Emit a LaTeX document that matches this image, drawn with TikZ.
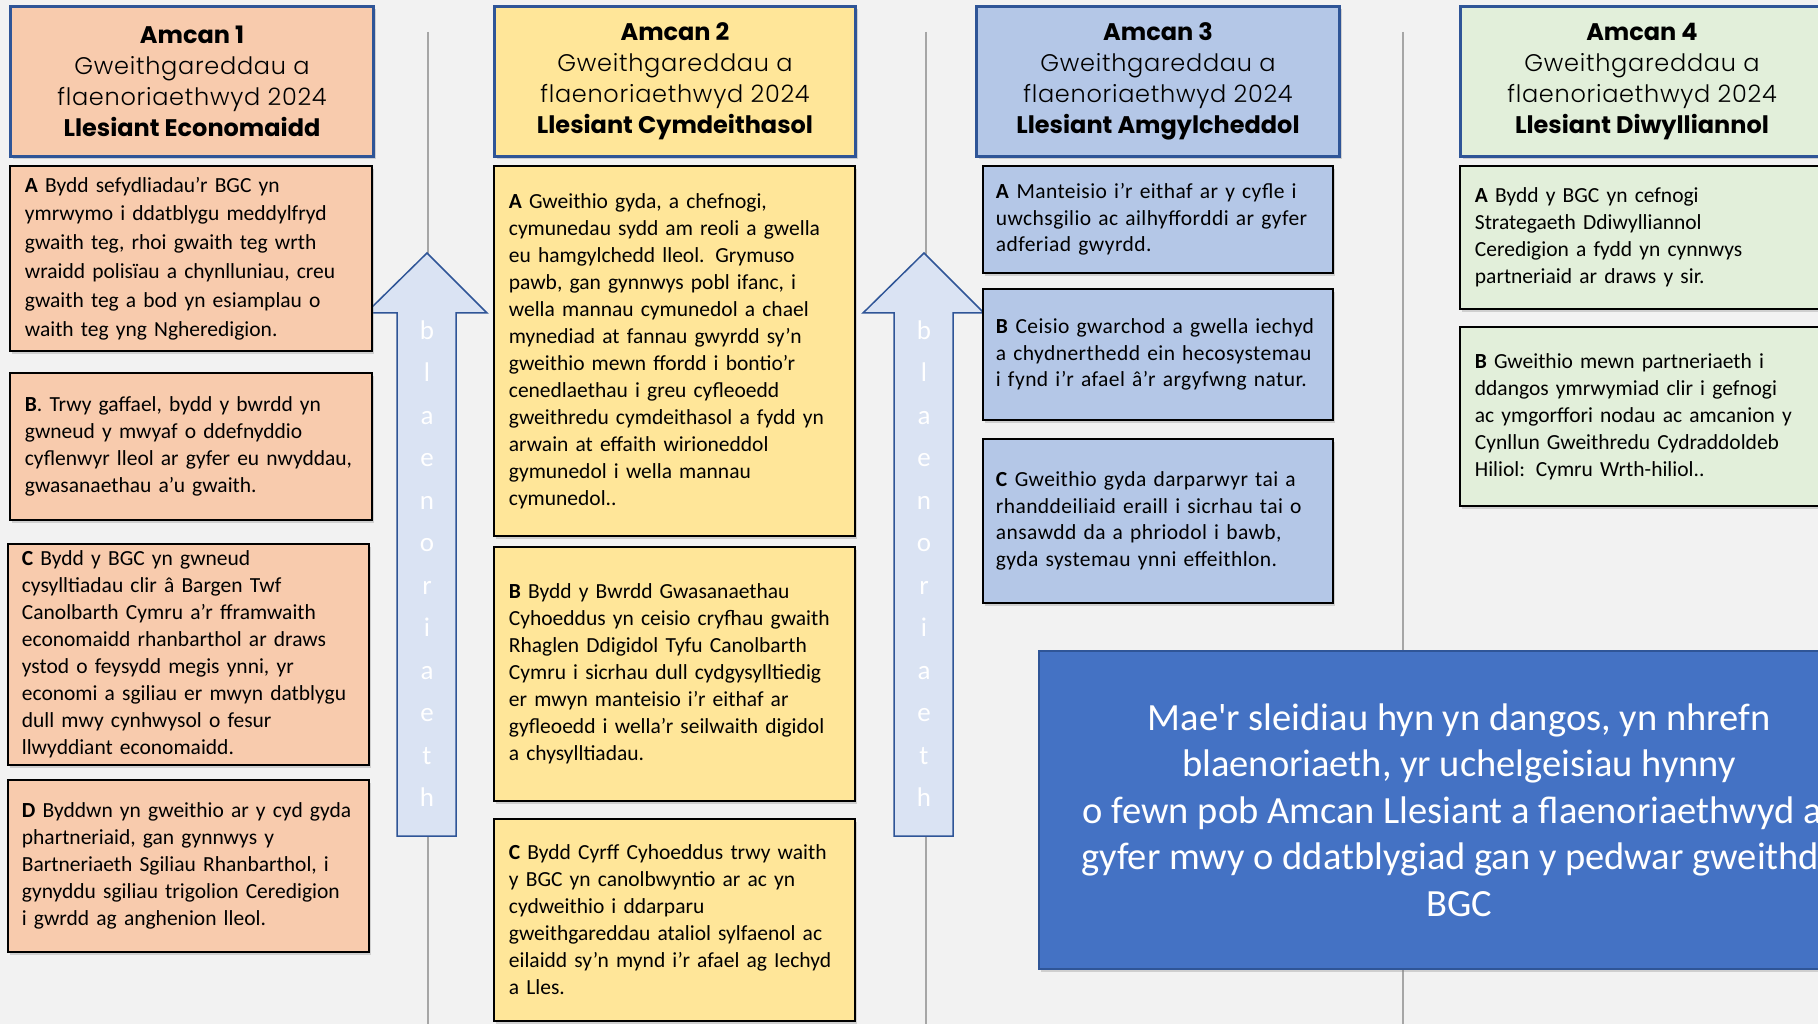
\documentclass[tikz,border=0pt]{standalone}
\usepackage{fontspec}
\setmainfont{Carlito}
\newfontfamily\headfont{Poppins}
\newfontfamily\headlight{Poppins Light}[LetterSpace=3]
\newfontfamily\widebody{Carlito}[LetterSpace=2]
\usetikzlibrary{shadows}

\definecolor{peach}{HTML}{F8CBAD}
\definecolor{sand}{HTML}{FFE699}
\definecolor{sky}{HTML}{B4C7E7}
\definecolor{sage}{HTML}{E2EFDA}
\definecolor{navy}{HTML}{2F5597}
\definecolor{royal}{HTML}{4472C4}
\definecolor{pale}{HTML}{DAE3F3}
\definecolor{backdrop}{HTML}{F2F2F2}

\newcommand{\headtext}[2]{\textbf{Amcan #1}\\{\headlight Gweithgareddau a}\\{\headlight flaenoriaethwyd 2024}\\\textbf{Llesiant #2}}

\tikzset{
  softshadow/.style={drop shadow={shadow xshift=2pt, shadow yshift=-3pt, opacity=.3}},
  headbox/.style={draw=navy, line width=3pt, anchor=north west, align=center,
    inner sep=0pt, softshadow, font=\headfont\fontsize{24}{31}\selectfont},
  itembox/.style={draw=black, line width=1.8pt, anchor=north west, align=left,
    inner sep=0pt, softshadow, font=\fontsize{21.5}{27}\selectfont},
  letter/.style={text=white, anchor=base, font=\fontsize{27}{27}\selectfont}
}

\begin{document}
\begin{tikzpicture}[x=1pt, y=-1pt]
\useasboundingbox (0,0) rectangle (1818,1024);
\clip (0,0) rectangle (1818,1024);
\fill[backdrop] (0,0) rectangle (1818,1024);

  % grey dividers
  \foreach \x in {428, 926, 1403} {%
    \draw[gray!70, line width=2.5pt] (\x,32) -- (\x,1024);
  }

  % priority arrows
  \foreach \x in {0, 497} {%
    \draw[fill=pale, draw=navy, line width=1.5pt] (427+\x,253) -- (487+\x,313) -- (456+\x,313)
      -- (456+\x,836) -- (397+\x,836) -- (397+\x,313) -- (366+\x,313) -- cycle;
    \foreach \l [count=\i] in {b,l,a,e,n,o,r,i,a,e,t,h} {%
      \node[letter] at (427+\x, 339+42.5*\i-42.5) {\l};
    }
  }

  % Amcan 1
  \node[headbox, fill=peach, minimum width=363, minimum height=150] (h1) at (9,5)
    {\headtext{1}{Economaidd}};
  \node[itembox, fill=peach, minimum width=362, minimum height=185, text width=332pt,
    font=\fontsize{21.5}{28.8}\selectfont] (a1) at (9,165)
    {\textbf{A} Bydd sefydliadau’r BGC yn\\ymrwymo i ddatblygu meddylfryd\\gwaith teg, rhoi gwaith teg wrth\\wraidd polisïau a chynlluniau, creu\\gwaith teg a bod yn esiamplau o\\waith teg yng Ngheredigion.};
  \node[itembox, fill=peach, minimum width=362, minimum height=147, text width=332pt] (b1) at (9,372)
    {\textbf{B}. Trwy gaffael, bydd y bwrdd yn\\gwneud y mwyaf o ddefnyddio\\cyflenwyr lleol ar gyfer eu nwyddau,\\gwasanaethau a’u gwaith.};
  \node[itembox, fill=peach, minimum width=361, minimum height=221, text width=333pt] (c1) at (7,543)
    {\textbf{C} Bydd y BGC yn gwneud\\cysylltiadau clir â Bargen Twf\\Canolbarth Cymru a’r fframwaith\\economaidd rhanbarthol ar draws\\ystod o feysydd megis ynni, yr\\economi a sgiliau er mwyn datblygu\\dull mwy cynhwysol o fesur\\llwyddiant economaidd.};
  \node[itembox, fill=peach, minimum width=361, minimum height=172, text width=333pt] (d1) at (7,779)
    {\textbf{D} Byddwn yn gweithio ar y cyd gyda\\phartneriaid, gan gynnwys y\\Bartneriaeth Sgiliau Rhanbarthol, i\\gynyddu sgiliau trigolion Ceredigion\\i gwrdd ag anghenion lleol.};

  % Amcan 2
  \node[headbox, fill=sand, minimum width=361, minimum height=150] (h2) at (493,5)
    {\headtext{2}{Cymdeithasol}};
  \node[itembox, fill=sand, minimum width=361, minimum height=370, text width=331pt] (a2) at (493,165)
    {\textbf{A} Gweithio gyda, a chefnogi,\\cymunedau sydd am reoli a gwella\\eu hamgylchedd lleol. Grymuso\\pawb, gan gynnwys pobl ifanc, i\\wella mannau cymunedol a chael\\mynediad at fannau gwyrdd sy’n\\gweithio mewn ffordd i bontio’r\\cenedlaethau i greu cyfleoedd\\gweithredu cymdeithasol a fydd yn\\arwain at effaith wirioneddol\\gymunedol i wella mannau\\cymunedol..};
  \node[itembox, fill=sand, minimum width=361, minimum height=254, text width=331pt] (b2) at (493,546)
    {\textbf{B} Bydd y Bwrdd Gwasanaethau\\Cyhoeddus yn ceisio cryfhau gwaith\\Rhaglen Ddigidol Tyfu Canolbarth\\Cymru i sicrhau dull cydgysylltiedig\\er mwyn manteisio i’r eithaf ar\\gyfleoedd i wella’r seilwaith digidol\\a chysylltiadau.};
  \node[itembox, fill=sand, minimum width=361, minimum height=202, text width=331pt] (c2) at (493,818)
    {\textbf{C} Bydd Cyrff Cyhoeddus trwy waith\\y BGC yn canolbwyntio ar ac yn\\cydweithio i ddarparu\\gweithgareddau ataliol sylfaenol ac\\eilaidd sy’n mynd i’r afael ag Iechyd\\a Lles.};

  % Amcan 3
  \node[headbox, fill=sky, minimum width=363, minimum height=150] (h3) at (975,5)
    {\headtext{3}{Amgylcheddol}};
  \node[itembox, fill=sky, minimum width=350, minimum height=107, text width=324pt,
    font=\widebody\fontsize{21.5}{26.7}\selectfont] (a3) at (982,165)
    {\textbf{A} Manteisio i’r eithaf ar y cyfle i\\uwchsgilio ac ailhyfforddi ar gyfer\\adferiad gwyrdd.};
  \node[itembox, fill=sky, minimum width=350, minimum height=131, text width=324pt,
    font=\widebody\fontsize{21.5}{26.7}\selectfont] (b3) at (982,288)
    {\textbf{B} Ceisio gwarchod a gwella iechyd\\a chydnerthedd ein hecosystemau\\i fynd i’r afael â’r argyfwng natur.};
  \node[itembox, fill=sky, minimum width=350, minimum height=164, text width=324pt,
    font=\widebody\fontsize{21.5}{26.7}\selectfont] (c3) at (982,438)
    {\textbf{C} Gweithio gyda darparwyr tai a\\rhanddeiliaid eraill i sicrhau tai o\\ansawdd da a phriodol i bawb,\\gyda systemau ynni effeithlon.};

  % Amcan 4
  \node[headbox, fill=sage, minimum width=363, minimum height=150] (h4) at (1459,5)
    {\headtext{4}{Diwylliannol}};
  \node[itembox, fill=sage, minimum width=380, minimum height=143, text width=350pt] (a4) at (1459,165)
    {\textbf{A} Bydd y BGC yn cefnogi\\Strategaeth Ddiwylliannol\\Ceredigion a fydd yn cynnwys\\partneriaid ar draws y sir.};
  \node[itembox, fill=sage, minimum width=380, minimum height=179, text width=350pt] (b4) at (1459,326)
    {\textbf{B} Gweithio mewn partneriaeth i\\ddangos ymrwymiad clir i gefnogi\\ac ymgorffori nodau ac amcanion y\\Cynllun Gweithredu Cydraddoldeb\\Hiliol: Cymru Wrth-hiliol..};

  % summary
  \node[draw=navy, line width=2pt, fill=royal, text=white, anchor=north west, align=center,
    minimum width=840, minimum height=318, softshadow, font=\fontsize{38.5}{46.5}\selectfont] (note) at (1038,650)
    {Mae\textquotesingle r sleidiau hyn yn dangos, yn nhrefn\\blaenoriaeth, yr uchelgeisiau hynny\\o fewn pob Amcan Llesiant a flaenoriaethwyd ar\\gyfer mwy o ddatblygiad gan y pedwar gweithdy\\BGC};
\end{tikzpicture}
\end{document}
